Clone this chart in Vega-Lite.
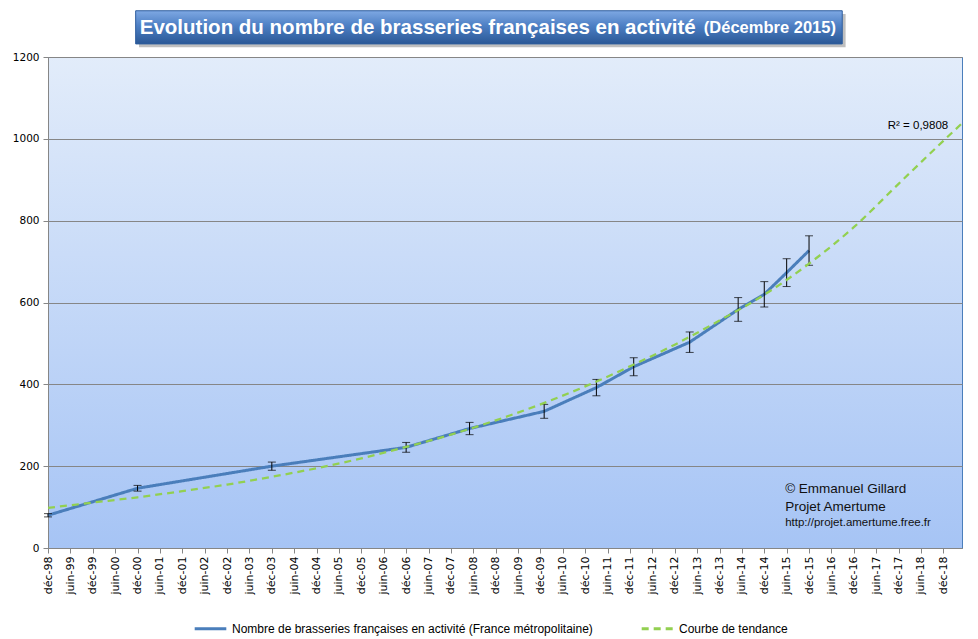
{
  "$schema": "https://vega.github.io/schema/vega-lite/v6.json",
  "width": 914,
  "height": 491,
  "autosize": {"type": "none"},
  "padding": {"left": 48, "top": 57, "right": 16, "bottom": 91},
  "background": "white",
  "view": {
    "fill": {"gradient": "linear", "x1": 0, "y1": 0, "x2": 0, "y2": 1,
      "stops": [{"offset": 0, "color": "#E2ECFA"}, {"offset": 1, "color": "#A6C4F5"}]},
    "stroke": "#4A7EBB",
    "strokeWidth": 1
  },
  "config": {
    "axis": {"title": null, "labelColor": "#000000", "tickSize": 5, "tickColor": "#868686", "domainColor": "#868686", "labelFont": "DejaVu Sans"},
    "axisX": {"grid": false, "labelAngle": 270, "labelAlign": "right", "labelBaseline": "middle", "labelFontSize": 11, "labelPadding": 3, "labelOverlap": false, "labelBound": false, "labelFlush": false},
    "axisY": {"grid": true, "gridColor": "#868686", "gridWidth": 1, "labelFontSize": 10.5, "labelPadding": 4, "labelOverlap": false}
  },
  "datasets": {
    "obs": [
      {"t": 0, "v": 80, "lo": 76, "hi": 84, "serie": "Nombre de brasseries françaises en activité (France métropolitaine)"},
      {"t": 24, "v": 146, "lo": 139, "hi": 153, "serie": "Nombre de brasseries françaises en activité (France métropolitaine)"},
      {"t": 60, "v": 200, "lo": 190, "hi": 210, "serie": "Nombre de brasseries françaises en activité (France métropolitaine)"},
      {"t": 96, "v": 246, "lo": 234, "hi": 258, "serie": "Nombre de brasseries françaises en activité (France métropolitaine)"},
      {"t": 113, "v": 292, "lo": 277, "hi": 307, "serie": "Nombre de brasseries françaises en activité (France métropolitaine)"},
      {"t": 133, "v": 334, "lo": 317, "hi": 351, "serie": "Nombre de brasseries françaises en activité (France métropolitaine)"},
      {"t": 147, "v": 392, "lo": 372, "hi": 412, "serie": "Nombre de brasseries françaises en activité (France métropolitaine)"},
      {"t": 157, "v": 443, "lo": 421, "hi": 465, "serie": "Nombre de brasseries françaises en activité (France métropolitaine)"},
      {"t": 172, "v": 503, "lo": 478, "hi": 528, "serie": "Nombre de brasseries françaises en activité (France métropolitaine)"},
      {"t": 185, "v": 583, "lo": 554, "hi": 612, "serie": "Nombre de brasseries françaises en activité (France métropolitaine)"},
      {"t": 192, "v": 620, "lo": 589, "hi": 651, "serie": "Nombre de brasseries françaises en activité (France métropolitaine)"},
      {"t": 198, "v": 673, "lo": 639, "hi": 707, "serie": "Nombre de brasseries françaises en activité (France métropolitaine)"},
      {"t": 204, "v": 727, "lo": 691, "hi": 763, "serie": "Nombre de brasseries françaises en activité (France métropolitaine)"}
    ],
    "trend": [
      {"t": 0, "v": 98, "serie": "Courbe de tendance"},
      {"t": 12, "v": 111, "serie": "Courbe de tendance"},
      {"t": 24, "v": 124, "serie": "Courbe de tendance"},
      {"t": 36, "v": 139, "serie": "Courbe de tendance"},
      {"t": 48, "v": 155, "serie": "Courbe de tendance"},
      {"t": 60, "v": 174, "serie": "Courbe de tendance"},
      {"t": 72, "v": 195, "serie": "Courbe de tendance"},
      {"t": 84, "v": 219, "serie": "Courbe de tendance"},
      {"t": 96, "v": 247, "serie": "Courbe de tendance"},
      {"t": 108, "v": 277, "serie": "Courbe de tendance"},
      {"t": 120, "v": 312, "serie": "Courbe de tendance"},
      {"t": 132, "v": 351, "serie": "Courbe de tendance"},
      {"t": 144, "v": 395, "serie": "Courbe de tendance"},
      {"t": 156, "v": 444, "serie": "Courbe de tendance"},
      {"t": 168, "v": 497, "serie": "Courbe de tendance"},
      {"t": 180, "v": 556, "serie": "Courbe de tendance"},
      {"t": 192, "v": 619, "serie": "Courbe de tendance"},
      {"t": 204, "v": 695, "serie": "Courbe de tendance"},
      {"t": 216, "v": 784, "serie": "Courbe de tendance"},
      {"t": 228, "v": 890, "serie": "Courbe de tendance"},
      {"t": 240, "v": 995, "serie": "Courbe de tendance"},
      {"t": 245, "v": 1038, "serie": "Courbe de tendance"}
    ]
  },
  "resolve": {"axis": {"x": "independent", "y": "independent"}},
  "layer": [
    {
      "encoding": {
        "x": {
          "field": "t", "type": "quantitative",
          "scale": {"domain": [0, 245], "nice": false, "zero": false},
          "axis": {
            "title": null,
            "values": [0,6,12,18,24,30,36,42,48,54,60,66,72,78,84,90,96,102,108,114,120,126,132,138,144,150,156,162,168,174,180,186,192,198,204,210,216,222,228,234,240],
            "labelExpr": "['déc-98','juin-99','déc-99','juin-00','déc-00','juin-01','déc-01','juin-02','déc-02','juin-03','déc-03','juin-04','déc-04','juin-05','déc-05','juin-06','déc-06','juin-07','déc-07','juin-08','déc-08','juin-09','déc-09','juin-10','déc-10','juin-11','déc-11','juin-12','déc-12','juin-13','déc-13','juin-14','déc-14','juin-15','déc-15','juin-16','déc-16','juin-17','déc-17','juin-18','déc-18'][round(datum.value/6)]",
            "labelOverlap": false
          }
        },
        "y": {
          "field": "v", "type": "quantitative",
          "scale": {"domain": [0, 1200], "nice": false},
          "axis": {"title": null, "values": [0,200,400,600,800,1000,1200], "format": "d"}
        }
      },
      "layer": [
        {
          "data": {"name": "obs"},
          "mark": {"type": "line", "strokeWidth": 3},
          "encoding": {
            "color": {"field": "serie", "type": "nominal",
              "scale": {"domain": ["Nombre de brasseries françaises en activité (France métropolitaine)", "Courbe de tendance"], "range": ["#4A7EBB", "#92D050"]},
              "legend": {"title": null, "orient": "none", "legendX": 145, "legendY": 554, "direction": "horizontal", "symbolType": "stroke", "symbolSize": 1000, "symbolStrokeWidth": 3, "labelFont": "Liberation Sans", "labelFontSize": 12, "labelColor": "#000000", "labelLimit": 600, "labelOffset": 4, "columnPadding": 42}},
            "strokeDash": {"field": "serie", "type": "nominal",
              "scale": {"domain": ["Nombre de brasseries françaises en activité (France métropolitaine)", "Courbe de tendance"], "range": [[1, 0], [7, 5]]},
              "legend": {"title": null, "orient": "none", "legendX": 145, "legendY": 554, "direction": "horizontal", "symbolType": "stroke", "symbolSize": 1000, "symbolStrokeWidth": 3, "labelFont": "Liberation Sans", "labelFontSize": 12, "labelColor": "#000000", "labelLimit": 600, "labelOffset": 4, "columnPadding": 42}}
          }
        },
        {
          "data": {"name": "obs"},
          "mark": {"type": "rule", "color": "#000000", "strokeWidth": 1},
          "encoding": {"y": {"field": "lo", "type": "quantitative"}, "y2": {"field": "hi"}}
        },
        {
          "data": {"name": "obs"},
          "mark": {"type": "tick", "color": "#000000", "thickness": 1, "size": 8, "orient": "horizontal"},
          "encoding": {"y": {"field": "lo", "type": "quantitative"}}
        },
        {
          "data": {"name": "obs"},
          "mark": {"type": "tick", "color": "#000000", "thickness": 1, "size": 8, "orient": "horizontal"},
          "encoding": {"y": {"field": "hi", "type": "quantitative"}}
        },
        {
          "data": {"name": "trend"},
          "mark": {"type": "line", "strokeWidth": 2.25, "interpolate": "monotone"},
          "encoding": {
            "color": {"field": "serie", "type": "nominal"},
            "strokeDash": {"field": "serie", "type": "nominal"}
          }
        }
      ]
    },
    {
      "data": {"values": [{"k": "ombre"}]},
      "mark": {"type": "rect", "color": "#8A8A8A", "opacity": 0.55, "clip": false},
      "encoding": {"x": {"datum": 24.4, "type": "quantitative", "axis": null}, "x2": {"datum": 213.8}, "y": {"datum": 1305, "type": "quantitative", "axis": null}, "y2": {"datum": 1224}}
    },
    {
      "data": {"values": [{"k": "cadre"}]},
      "mark": {"type": "rect", "stroke": "#2E5D9E", "strokeWidth": 1, "clip": false,
        "color": {"gradient": "linear", "x1": 0, "y1": 0, "x2": 0, "y2": 1,
          "stops": [{"offset": 0, "color": "#7EA8E3"}, {"offset": 0.45, "color": "#4D7FC4"}, {"offset": 1, "color": "#2A5896"}]}},
      "encoding": {"x": {"datum": 23.5, "type": "quantitative", "axis": null}, "x2": {"datum": 212.9}, "y": {"datum": 1313, "type": "quantitative", "axis": null}, "y2": {"datum": 1232}}
    },
    {
      "data": {"values": [{"label": "Evolution du nombre de brasseries françaises en activité"}]},
      "mark": {"type": "text", "align": "left", "baseline": "middle", "font": "Liberation Sans", "fontWeight": "bold", "fontSize": 20.5, "color": "#FFFFFF", "clip": false},
      "encoding": {"x": {"datum": 24.6, "type": "quantitative", "axis": null}, "y": {"datum": 1272, "type": "quantitative", "axis": null}, "text": {"field": "label"}}
    },
    {
      "data": {"values": [{"label": "(Décembre 2015)"}]},
      "mark": {"type": "text", "align": "right", "baseline": "middle", "font": "Liberation Sans", "fontWeight": "bold", "fontSize": 16.5, "color": "#FFFFFF", "clip": false},
      "encoding": {"x": {"datum": 211.2, "type": "quantitative", "axis": null}, "y": {"datum": 1270, "type": "quantitative", "axis": null}, "text": {"field": "label"}}
    },
    {
      "data": {"values": [{"label": "R² = 0,9808"}]},
      "mark": {"type": "text", "align": "right", "baseline": "middle", "font": "Liberation Sans", "fontSize": 11.5, "color": "#000000"},
      "encoding": {"x": {"datum": 241.3, "type": "quantitative", "axis": null}, "y": {"datum": 1031, "type": "quantitative", "axis": null}, "text": {"field": "label"}}
    },
    {
      "data": {"values": [{"label": "© Emmanuel Gillard"}]},
      "mark": {"type": "text", "align": "left", "baseline": "middle", "font": "Liberation Sans", "fontSize": 13.5, "color": "#111111"},
      "encoding": {"x": {"datum": 197.6, "type": "quantitative", "axis": null}, "y": {"datum": 144, "type": "quantitative", "axis": null}, "text": {"field": "label"}}
    },
    {
      "data": {"values": [{"label": "Projet Amertume"}]},
      "mark": {"type": "text", "align": "left", "baseline": "middle", "font": "Liberation Sans", "fontSize": 13.5, "color": "#111111"},
      "encoding": {"x": {"datum": 197.6, "type": "quantitative", "axis": null}, "y": {"datum": 101, "type": "quantitative", "axis": null}, "text": {"field": "label"}}
    },
    {
      "data": {"values": [{"label": "http://projet.amertume.free.fr"}]},
      "mark": {"type": "text", "align": "left", "baseline": "middle", "font": "Liberation Sans", "fontSize": 11.5, "color": "#111111"},
      "encoding": {"x": {"datum": 197.6, "type": "quantitative", "axis": null}, "y": {"datum": 61, "type": "quantitative", "axis": null}, "text": {"field": "label"}}
    }
  ]
}
